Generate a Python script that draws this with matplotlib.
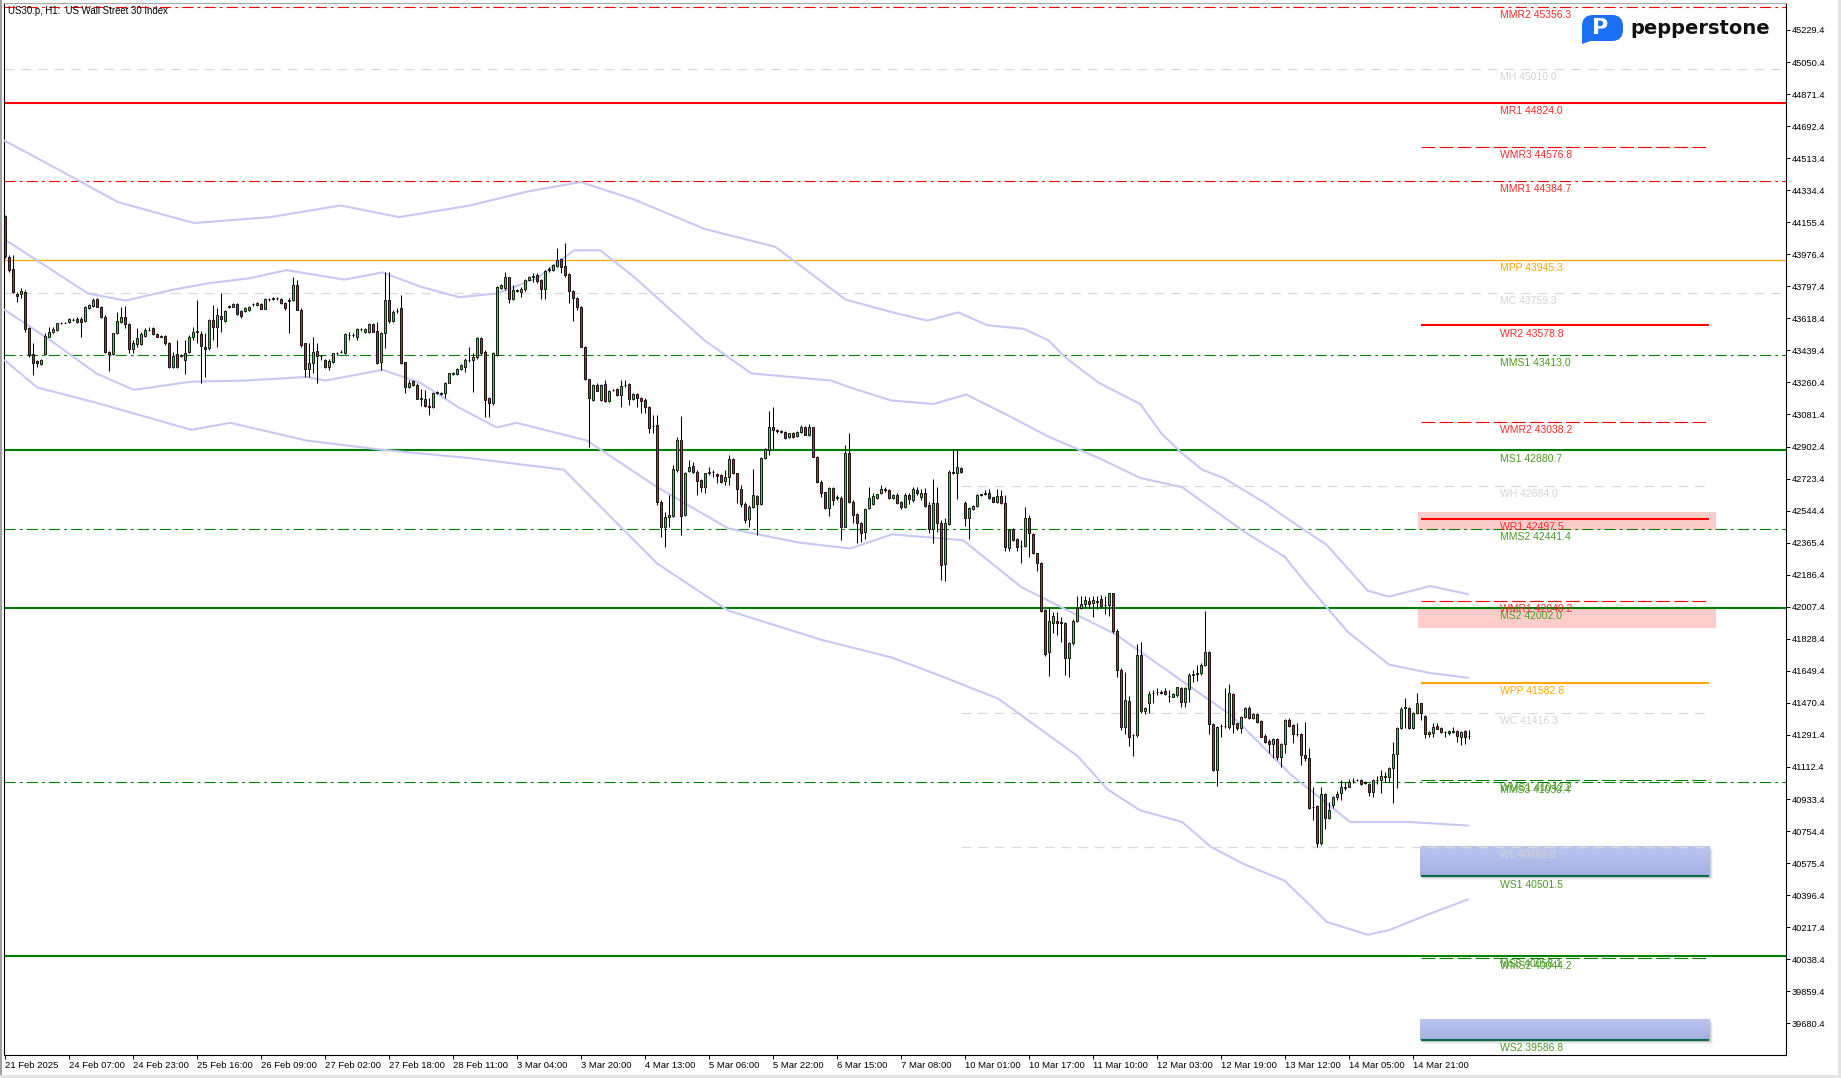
import numpy as np
import matplotlib.pyplot as plt
import matplotlib.transforms as mtransforms
from matplotlib.patches import Rectangle, FancyBboxPatch, Polygon

plt.rcParams['lines.scale_dashes'] = False
FONT = ['Liberation Sans', 'DejaVu Sans']

# H1 candles, one row per bar: open, high, low, close
candles = [
    (44190, 44196, 43955, 43965), (43963, 43973, 43880, 43889), (43895, 43973, 43759, 43768), (43753, 43768, 43712, 43746),
    (43753, 43787, 43731, 43772), (43764, 43777, 43545, 43558), (43567, 43572, 43405, 43414), (43420, 43479, 43303, 43368),
    (43381, 43386, 43349, 43368), (43364, 43390, 43358, 43386), (43420, 43535, 43414, 43520), (43517, 43572, 43513, 43541),
    (43541, 43572, 43535, 43558), (43554, 43595, 43550, 43591), (43591, 43600, 43585, 43593), (43593, 43600, 43590, 43595),
    (43597, 43619, 43591, 43615), (43612, 43619, 43605, 43610), (43615, 43625, 43595, 43597), (43615, 43625, 43513, 43597),
    (43606, 43688, 43600, 43680), (43675, 43700, 43670, 43693), (43688, 43731, 43684, 43721), (43725, 43731, 43680, 43684),
    (43684, 43690, 43620, 43625), (43628, 43638, 43423, 43429), (43433, 43435, 43327, 43418), (43418, 43539, 43412, 43535),
    (43535, 43656, 43531, 43602), (43600, 43680, 43595, 43625), (43628, 43688, 43563, 43587), (43587, 43591, 43423, 43448),
    (43448, 43498, 43423, 43479), (43476, 43563, 43461, 43507), (43474, 43545, 43470, 43530), (43520, 43563, 43517, 43554),
    (43554, 43572, 43550, 43556), (43563, 43569, 43526, 43530), (43530, 43535, 43513, 43517), (43522, 43526, 43512, 43517),
    (43520, 43526, 43470, 43479), (43479, 43489, 43340, 43345), (43349, 43433, 43340, 43410), (43418, 43498, 43340, 43349),
    (43414, 43420, 43405, 43410), (43386, 43498, 43308, 43427), (43429, 43526, 43423, 43517), (43513, 43572, 43498, 43545),
    (43545, 43721, 43479, 43548), (43530, 43548, 43260, 43466), (43461, 43535, 43293, 43448), (43451, 43613, 43442, 43610),
    (43610, 43693, 43498, 43572), (43572, 43675, 43461, 43638), (43632, 43759, 43545, 43613), (43606, 43666, 43600, 43660),
    (43684, 43693, 43675, 43686), (43684, 43705, 43680, 43699), (43699, 43705, 43640, 43643), (43660, 43666, 43619, 43634),
    (43662, 43680, 43655, 43675), (43666, 43690, 43660, 43684), (43699, 43707, 43690, 43701), (43693, 43712, 43690, 43707),
    (43697, 43703, 43668, 43671), (43671, 43730, 43668, 43727), (43727, 43735, 43718, 43727), (43729, 43740, 43720, 43731),
    (43731, 43740, 43722, 43731), (43727, 43735, 43700, 43703), (43703, 43712, 43666, 43675), (43721, 43731, 43539, 43718),
    (43721, 43852, 43718, 43805), (43805, 43833, 43664, 43666), (43666, 43675, 43461, 43470), (43479, 43483, 43293, 43334),
    (43334, 43479, 43293, 43368), (43368, 43517, 43312, 43433), (43437, 43479, 43256, 43409), (43409, 43414, 43386, 43407),
    (43386, 43390, 43340, 43345), (43349, 43390, 43330, 43379), (43377, 43427, 43371, 43423), (43423, 43430, 43415, 43425),
    (43430, 43440, 43425, 43433), (43423, 43539, 43420, 43530), (43528, 43545, 43498, 43526), (43526, 43535, 43515, 43528),
    (43517, 43563, 43498, 43559), (43559, 43565, 43550, 43557), (43541, 43565, 43538, 43559), (43545, 43591, 43539, 43585),
    (43585, 43591, 43540, 43545), (43548, 43600, 43364, 43371), (43377, 43545, 43330, 43539), (43539, 43880, 43451, 43721),
    (43721, 43880, 43595, 43606), (43606, 43666, 43600, 43656), (43660, 43675, 43647, 43658), (43675, 43749, 43364, 43371),
    (43373, 43377, 43204, 43234), (43234, 43275, 43228, 43256), (43269, 43275, 43240, 43247), (43247, 43256, 43167, 43170),
    (43170, 43222, 43129, 43172), (43170, 43218, 43126, 43131), (43128, 43172, 43079, 43126), (43126, 43209, 43117, 43204),
    (43200, 43212, 43196, 43209), (43196, 43206, 43192, 43204), (43200, 43265, 43172, 43256), (43260, 43315, 43256, 43312),
    (43310, 43318, 43304, 43312), (43306, 43340, 43302, 43334), (43334, 43362, 43330, 43358), (43349, 43396, 43321, 43386),
    (43386, 43461, 43377, 43388), (43386, 43423, 43209, 43405), (43405, 43517, 43390, 43507), (43507, 43517, 43414, 43423),
    (43433, 43442, 43066, 43163), (43172, 43181, 43066, 43144), (43144, 43433, 43135, 43423), (43414, 43800, 43408, 43792),
    (43787, 43810, 43783, 43805), (43787, 43880, 43777, 43848), (43848, 43852, 43707, 43729), (43729, 43805, 43721, 43777),
    (43774, 43780, 43768, 43776), (43768, 43792, 43740, 43781), (43781, 43839, 43774, 43833), (43833, 43855, 43830, 43852),
    (43852, 43870, 43824, 43855), (43861, 43870, 43815, 43829), (43833, 43837, 43725, 43781), (43781, 43889, 43725, 43883),
    (43890, 43908, 43880, 43893), (43889, 43920, 43885, 43917), (43911, 44010, 43908, 43945), (43949, 43955, 43870, 43908),
    (43911, 44038, 43852, 43861), (43867, 43874, 43703, 43774), (43774, 43777, 43606, 43731), (43731, 43740, 43666, 43680),
    (43680, 43688, 43457, 43461), (43461, 43465, 43275, 43278), (43278, 43282, 42902, 43172), (43163, 43252, 43159, 43247),
    (43247, 43255, 43210, 43215), (43162, 43250, 43155, 43246), (43252, 43274, 43153, 43159), (43159, 43216, 43150, 43213),
    (43216, 43225, 43210, 43218), (43224, 43230, 43185, 43190), (43190, 43274, 43125, 43240), (43246, 43274, 43237, 43248),
    (43252, 43256, 43134, 43166), (43166, 43200, 43162, 43196), (43196, 43200, 43125, 43172), (43172, 43181, 43088, 43159),
    (43162, 43172, 43088, 43125), (43125, 43129, 42976, 43008), (43015, 43079, 42976, 43019), (43023, 43079, 42576, 42594),
    (42594, 42604, 42399, 42455), (42455, 42539, 42343, 42511), (42511, 42632, 42455, 42520), (42514, 42799, 42511, 42775),
    (42771, 42957, 42762, 42939), (42939, 43073, 42408, 42514), (42520, 42762, 42514, 42753), (42768, 42827, 42762, 42790),
    (42794, 42818, 42753, 42762), (42762, 42771, 42632, 42712), (42715, 42719, 42650, 42678), (42678, 42756, 42641, 42753),
    (42756, 42786, 42743, 42758), (42758, 42771, 42734, 42760), (42747, 42753, 42697, 42738), (42743, 42747, 42701, 42706),
    (42712, 42771, 42688, 42734), (42734, 42855, 42688, 42831), (42831, 42836, 42747, 42753), (42753, 42756, 42589, 42663),
    (42663, 42688, 42566, 42581), (42581, 42594, 42473, 42492), (42496, 42576, 42455, 42566), (42563, 42775, 42557, 42632),
    (42626, 42632, 42408, 42581), (42581, 42846, 42576, 42836), (42836, 42892, 42831, 42889), (42883, 43101, 42855, 43010),
    (43010, 43125, 42883, 42995), (42993, 42998, 42976, 42991), (42988, 42995, 42980, 42985), (42985, 42990, 42945, 42948),
    (42954, 42980, 42950, 42976), (42980, 42985, 42952, 42957), (42961, 42990, 42958, 42985), (42985, 43023, 42976, 43013),
    (43013, 43018, 42965, 42967), (42967, 43026, 42961, 43013), (43010, 43013, 42842, 42846), (42842, 42850, 42697, 42706),
    (42706, 42715, 42622, 42645), (42647, 42650, 42552, 42557), (42557, 42678, 42514, 42669), (42669, 42674, 42576, 42604),
    (42617, 42632, 42604, 42619), (42613, 42626, 42380, 42455), (42455, 42911, 42451, 42864), (42864, 42980, 42589, 42594),
    (42594, 42604, 42473, 42520), (42524, 42530, 42362, 42477), (42477, 42483, 42371, 42421), (42427, 42557, 42384, 42552),
    (42557, 42674, 42552, 42613), (42581, 42641, 42576, 42626), (42613, 42640, 42610, 42635), (42641, 42688, 42637, 42663),
    (42663, 42674, 42650, 42661), (42660, 42663, 42607, 42613), (42613, 42637, 42608, 42632), (42632, 42641, 42581, 42589),
    (42594, 42600, 42552, 42563), (42563, 42641, 42557, 42632), (42632, 42641, 42581, 42607), (42604, 42674, 42594, 42663),
    (42660, 42674, 42632, 42641), (42619, 42663, 42604, 42641), (42641, 42669, 42566, 42570), (42576, 42594, 42421, 42440),
    (42440, 42719, 42362, 42589), (42589, 42674, 42427, 42473), (42477, 42492, 42157, 42241), (42244, 42501, 42153, 42473),
    (42470, 42771, 42464, 42762), (42760, 42887, 42747, 42756), (42753, 42887, 42607, 42786), (42781, 42786, 42753, 42762),
    (42589, 42600, 42458, 42501), (42501, 42566, 42384, 42561), (42552, 42575, 42548, 42570), (42570, 42637, 42566, 42632),
    (42634, 42640, 42628, 42635), (42638, 42660, 42632, 42641), (42641, 42663, 42607, 42613), (42619, 42622, 42590, 42594),
    (42594, 42663, 42589, 42626), (42626, 42660, 42581, 42589), (42589, 42632, 42321, 42343), (42334, 42440, 42321, 42436),
    (42440, 42445, 42375, 42380), (42384, 42390, 42321, 42343), (42345, 42380, 42254, 42347), (42347, 42566, 42343, 42501),
    (42505, 42520, 42287, 42418), (42414, 42418, 42302, 42309), (42306, 42309, 42209, 42250), (42254, 42260, 41980, 41986),
    (41989, 41995, 41735, 41741), (41752, 42007, 41618, 41926), (41915, 41980, 41859, 41956), (41930, 41976, 41850, 41915),
    (41918, 41948, 41812, 41920), (41918, 41924, 41626, 41719), (41719, 41812, 41617, 41803), (41803, 41937, 41794, 41930),
    (41930, 42067, 41924, 41999), (41999, 42067, 41993, 42023), (42023, 42067, 42008, 42045), (42040, 42064, 41999, 42023),
    (42026, 42067, 41948, 42045), (42038, 42067, 41993, 42036), (42049, 42073, 41999, 42012), (42015, 42067, 41965, 42017),
    (42017, 42086, 41956, 42082), (42082, 42086, 41863, 41874), (41874, 41881, 41613, 41654), (41654, 41663, 41319, 41334),
    (41334, 41645, 41297, 41487), (41481, 41509, 41231, 41278), (41291, 41297, 41176, 41289), (41291, 41799, 41278, 41738),
    (41738, 41812, 41416, 41427), (41427, 41449, 41408, 41444), (41472, 41539, 41416, 41520), (41525, 41542, 41472, 41527),
    (41530, 41552, 41514, 41533), (41530, 41540, 41520, 41527), (41537, 41552, 41514, 41518), (41510, 41542, 41477, 41509),
    (41505, 41527, 41501, 41520), (41514, 41561, 41501, 41557), (41552, 41561, 41449, 41473), (41473, 41561, 41446, 41552),
    (41546, 41639, 41477, 41626), (41628, 41654, 41589, 41630), (41630, 41682, 41593, 41635), (41635, 41691, 41626, 41682),
    (41682, 41985, 41676, 41756), (41756, 41762, 41297, 41352), (41352, 41360, 41092, 41095), (41095, 41341, 41008, 41337),
    (41339, 41351, 41278, 41341), (41341, 41552, 41328, 41343), (41334, 41576, 41323, 41524), (41520, 41524, 41304, 41352),
    (41356, 41360, 41319, 41328), (41328, 41397, 41300, 41393), (41393, 41449, 41384, 41444), (41440, 41453, 41379, 41384),
    (41384, 41416, 41379, 41408), (41408, 41416, 41356, 41365), (41369, 41375, 41278, 41282), (41285, 41297, 41244, 41254),
    (41257, 41267, 41192, 41239), (41239, 41272, 41161, 41267), (41267, 41272, 41151, 41170), (41170, 41248, 41110, 41241),
    (41241, 41379, 41189, 41375), (41375, 41384, 41334, 41341), (41347, 41352, 41244, 41295), (41297, 41360, 41285, 41295),
    (41295, 41300, 41123, 41179), (41179, 41365, 41148, 41161), (41161, 41216, 40876, 40881), (40889, 41002, 40816, 40891),
    (40894, 40900, 40667, 40686), (40686, 41002, 40676, 40960), (40960, 40965, 40764, 40825), (40825, 40919, 40820, 40872),
    (40900, 40950, 40881, 40946), (40946, 40980, 40928, 40960), (40965, 41040, 40928, 41002), (40993, 41030, 40984, 41002),
    (41002, 41043, 40999, 41030), (41034, 41049, 41025, 41036), (41038, 41045, 41032, 41040), (41040, 41047, 41012, 41017),
    (41030, 41034, 41018, 41021), (41017, 41025, 40950, 40971), (40971, 41043, 40946, 41040), (41040, 41062, 41017, 41042),
    (41040, 41095, 40969, 41062), (41058, 41086, 41030, 41060), (41058, 41114, 41030, 41105), (41105, 41254, 40913, 41185),
    (41185, 41337, 40993, 41328), (41328, 41449, 41323, 41434), (41440, 41496, 41328, 41449), (41440, 41449, 41323, 41328),
    (41328, 41421, 41324, 41416), (41412, 41524, 41408, 41472), (41468, 41472, 41375, 41416), (41397, 41403, 41272, 41297),
    (41295, 41315, 41278, 41310), (41304, 41356, 41282, 41337), (41341, 41356, 41323, 41324), (41328, 41334, 41304, 41310),
    (41306, 41315, 41282, 41305), (41300, 41319, 41291, 41315), (41310, 41334, 41304, 41311), (41313, 41319, 41254, 41285),
    (41282, 41315, 41235, 41310), (41313, 41319, 41239, 41282), (41285, 41319, 41267, 41286),
]

# envelope bands: bar index and price of each traced point
upper_outer_x = [0, 16.4, 28.1, 47.2, 66.3, 83.9, 98.5, 116.2, 130.8, 144, 157.3, 174.9, 192.5, 210.1, 221.8,
                 230.6, 238.3, 245.6, 254.7, 260.9, 265.3, 273.5, 283.8, 289.1, 294.3, 299.3, 304.6, 314.9,
                 319.9, 330.4, 340.7, 346, 356.3, 365.7]
upper_outer_y = [44610, 44413, 44269, 44151, 44184, 44249, 44184, 44249, 44328, 44380, 44282, 44118, 44019, 43724,
                 43652, 43606, 43652, 43580, 43560, 43495, 43396, 43258, 43140, 42976, 42864, 42773, 42727, 42589,
                 42510, 42353, 42097, 42064, 42123, 42078]
upper_inner_x = [0, 20.8, 30.2, 41.6, 51.3, 61, 70.4, 84.8, 94.4, 103.8, 113.5, 122.9, 132.9, 142.3, 148.8,
                 157.3, 174.9, 186.6, 206.6, 211.3, 221.5, 232.1, 240.3, 250.9, 260.9, 273.5, 283.8, 294.3,
                 304.6, 309.9, 319.9, 325.1, 335.7, 346, 356.3, 365.7]
upper_inner_y = [44058, 43757, 43718, 43777, 43816, 43842, 43888, 43835, 43875, 43796, 43737, 43757, 43842, 43999,
                 43999, 43849, 43495, 43311, 43271, 43232, 43160, 43140, 43193, 43075, 42957, 42838, 42727, 42675,
                 42510, 42425, 42287, 42143, 41867, 41684, 41637, 41611]
lower_inner_x = [0, 11.4, 22.8, 32.2, 46.6, 60.1, 75.4, 80.1, 94.4, 103.8, 113.5, 122.9, 127.9, 145.5, 163.1,
                 180.8, 198.4, 211.3, 221.8, 239.5, 254.1, 262.9, 277.6, 292.3, 306.9, 321.6, 336.3, 351, 365.7]
lower_inner_y = [43665, 43495, 43311, 43219, 43265, 43271, 43291, 43271, 43331, 43259, 43120, 43009, 43035, 42936,
                 42675, 42445, 42366, 42333, 42412, 42379, 42117, 42018, 41854, 41624, 41395, 41067, 40805, 40805,
                 40785]
lower_outer_x = [0, 8.1, 22.8, 46.6, 56.3, 75.4, 94.4, 116.2, 139.7, 163.1, 180.8, 204.2, 221.8, 233.6, 248.3,
                 268.2, 275.6, 283.8, 294.3, 301.4, 309.9, 319.9, 325.1, 330.4, 340.7, 346, 356.3, 365.7]
lower_outer_y = [43383, 43232, 43147, 42996, 43035, 42936, 42884, 42838, 42773, 42248, 41986, 41822, 41723, 41624,
                 41494, 41172, 40988, 40870, 40805, 40667, 40568, 40477, 40365, 40247, 40175, 40201, 40293, 40372]

# monthly and weekly pivot levels
month_names = ['MMR2', 'MH', 'MR1', 'MMR1', 'MPP', 'MC', 'MMS1', 'MS1', 'MMS2', 'MS2', 'MMS3', 'MS3']
month_values = [45356.3, 45010.0, 44824.0, 44384.7, 43945.3, 43759.3, 43413.0, 42880.7, 42441.4, 42002.0,
                41030.4, 40058.1]
week_names = ['WMR3', 'WR2', 'WMR2', 'WH', 'WR1', 'WMR1', 'WPP', 'WC', 'WMS1', 'WL', 'WS1', 'WMS2', 'WS2']
week_values = [44576.8, 43578.8, 43038.2, 42684.0, 42497.5, 42040.2, 41582.8, 41416.3, 41042.2, 40668.0,
               40501.5, 40044.2, 39586.8]

# shaded zones (low, high)
pink_zones = [(42438, 42538), (41891, 42002.0)]
blue_zones = [(40501.5, 40668.0), (39586.8, 39700)]

time_labels = ['21 Feb 2025', '24 Feb 07:00', '24 Feb 23:00', '25 Feb 16:00', '26 Feb 09:00', '27 Feb 02:00',
               '27 Feb 18:00', '28 Feb 11:00', '3 Mar 04:00', '3 Mar 20:00', '4 Mar 13:00', '5 Mar 06:00',
               '5 Mar 22:00', '6 Mar 15:00', '7 Mar 08:00', '10 Mar 01:00', '10 Mar 17:00', '11 Mar 10:00',
               '12 Mar 03:00', '12 Mar 19:00', '13 Mar 12:00', '14 Mar 05:00', '14 Mar 21:00']
price_ticks = [45229.4 - 179 * k for k in range(32)]

W, H = 1841, 1078
fig = plt.figure(figsize=(W / 100, H / 100), dpi=100)
ax = fig.add_axes([4 / W, (H - 1055) / H, (1786 - 4) / W, (1055 - 3) / H])
ax.set_xlim(-0.25, 445.25)
ax.set_ylim(39503.3, 45380.2)

# zones
for lo, hi in pink_zones:
    ax.add_patch(Rectangle((353.3, lo), 74.5, hi - lo, facecolor='#ffcccc', edgecolor='none', zorder=1))
blue_cmap = plt.matplotlib.colors.LinearSegmentedColormap.from_list('b', ['#a5b0e3', '#bcc5ef'])
for lo, hi in blue_zones:
    for k, a in enumerate([0.10, 0.07, 0.04]):
        sh = mtransforms.ScaledTranslation((1 + k) / 100, -(1.5 + k) / 100, fig.dpi_scale_trans)
        ax.add_patch(Rectangle((353.8, lo), 72.5, hi - lo, facecolor='black', alpha=a,
                               edgecolor='none', zorder=1, transform=ax.transData + sh))
    grad = np.linspace(0, 1, 20).reshape(-1, 1)
    ax.imshow(grad, extent=[353.8, 426.3, lo, hi], aspect='auto', origin='lower', zorder=1.1, cmap=blue_cmap)


def level_style(name):
    core = name[1:]
    weekly = name[0] == 'W'
    if core in ('H', 'C', 'L'):
        return '#d9d9d9', 0.9, (0, (7, 5)), '#d4d4d4'
    if core == 'PP':
        return '#ffa500', 1.5 if weekly else 0.9, '-', '#ffa500'
    if core.startswith('MR'):
        return '#ff0000', 0.8, (0, (10, 3)) if weekly else (0, (8, 3, 2, 3)), '#ff2a2a'
    if core.startswith('MS'):
        return '#008000', 0.8, (0, (10, 3)) if weekly else (0, (8, 3, 2, 3)), '#4b9a24'
    if core.startswith('R'):
        return '#ff0000', 1.5, '-', '#ff2a2a'
    return ('#0b6b45' if weekly else '#008000'), 1.5, '-', '#4b9a24'


lab_x = 373.75
for name, val in zip(month_names, month_values):
    col, lw, ls, tcol = level_style(name)
    ax.axhline(val, color=col, lw=lw, ls=ls, zorder=2)
    ax.annotate(f'{name} {val:.1f}', (lab_x, val), xytext=(0, -2.3), textcoords='offset points',
                va='top', ha='left', fontsize=7.5, color=tcol, family=FONT, zorder=8)
for name, val in zip(week_names, week_values):
    col, lw, ls, tcol = level_style(name)
    x0 = 239 if name[1:] in ('H', 'C', 'L') else 354
    ax.hlines(val, x0, 426, color=col, lw=lw, linestyles=ls, zorder=2)
    ax.annotate(f'{name} {val:.1f}', (lab_x, val), xytext=(0, -2.3), textcoords='offset points',
                va='top', ha='left', fontsize=7.5, color=tcol, family=FONT, zorder=8)

# bands
for bx, by in [(upper_outer_x, upper_outer_y), (upper_inner_x, upper_inner_y),
               (lower_inner_x, lower_inner_y), (lower_outer_x, lower_outer_y)]:
    ax.plot(bx, by, color='#c8c8f4', lw=1.5, zorder=3, solid_joinstyle='round')

# candles
ohlc = np.array(candles, dtype=float)
o, h, l, c = ohlc.T
x = np.arange(len(ohlc))
up = c >= o
ax.vlines(x, l, h, color='black', lw=0.75, zorder=5)
ax.bar(x, np.maximum(np.abs(c - o), 2), bottom=np.minimum(o, c), width=0.6,
       color=np.where(up, '#14e614', '#dc143c'), edgecolor='black', linewidth=0.6, zorder=6)

# axes styling
for side in ['left', 'right', 'bottom']:
    ax.spines[side].set_color('black')
    ax.spines[side].set_linewidth(0.8)
ax.spines['top'].set_color('#a8a8a8')
ax.yaxis.tick_right()
ax.set_yticks(price_ticks)
ax.set_yticklabels([f'{p:.1f}' for p in price_ticks])
ax.set_xticks(np.arange(0, 16 * len(time_labels), 16))
ax.set_xticklabels(time_labels)
ax.tick_params(axis='y', direction='out', length=3, width=0.7, pad=1, labelsize=6.7)
ax.tick_params(axis='x', direction='out', length=3, width=0.7, pad=1.5, labelsize=6.8)
for t in ax.get_xticklabels():
    t.set_ha('left')
    t.set_family(FONT)
for t in ax.get_yticklabels():
    t.set_family(FONT)

fig.text(8 / W, 1 - 6 / H, 'US30.p, H1:  US Wall Street 30 Index', fontsize=6.9, family=FONT,
         va='top', ha='left')

# logo
fig.add_artist(FancyBboxPatch((1582, H - 41), 41, 26, boxstyle='round,pad=0,rounding_size=11',
                              transform=None, facecolor='#1a6ff5', edgecolor='none'))
fig.add_artist(Polygon([(1582, H - 30), (1582, H - 44), (1596, H - 39)], closed=True, transform=None,
                       facecolor='#1a6ff5', edgecolor='none'))
fig.text(1600 / W, 1 - 28.5 / H, 'P', fontsize=16, weight='bold', color='white', ha='center', va='center',
         family='DejaVu Sans')
fig.text(1630 / W, 1 - 28 / H, 'pepperstone', fontsize=14, weight='bold', color='#111111',
         ha='left', va='center', family='DejaVu Sans')

# window frame
fig.add_artist(Rectangle((0, 0), 2, H, transform=None, facecolor='#a0a0a0', edgecolor='none'))
fig.add_artist(Rectangle((0, 0), W, 3, transform=None, facecolor='#e4e4e4', edgecolor='none'))
fig.add_artist(Rectangle((W - 3, 0), 3, H, transform=None, facecolor='#e4e4e4', edgecolor='none'))

fig.savefig('out.png', dpi=100)
